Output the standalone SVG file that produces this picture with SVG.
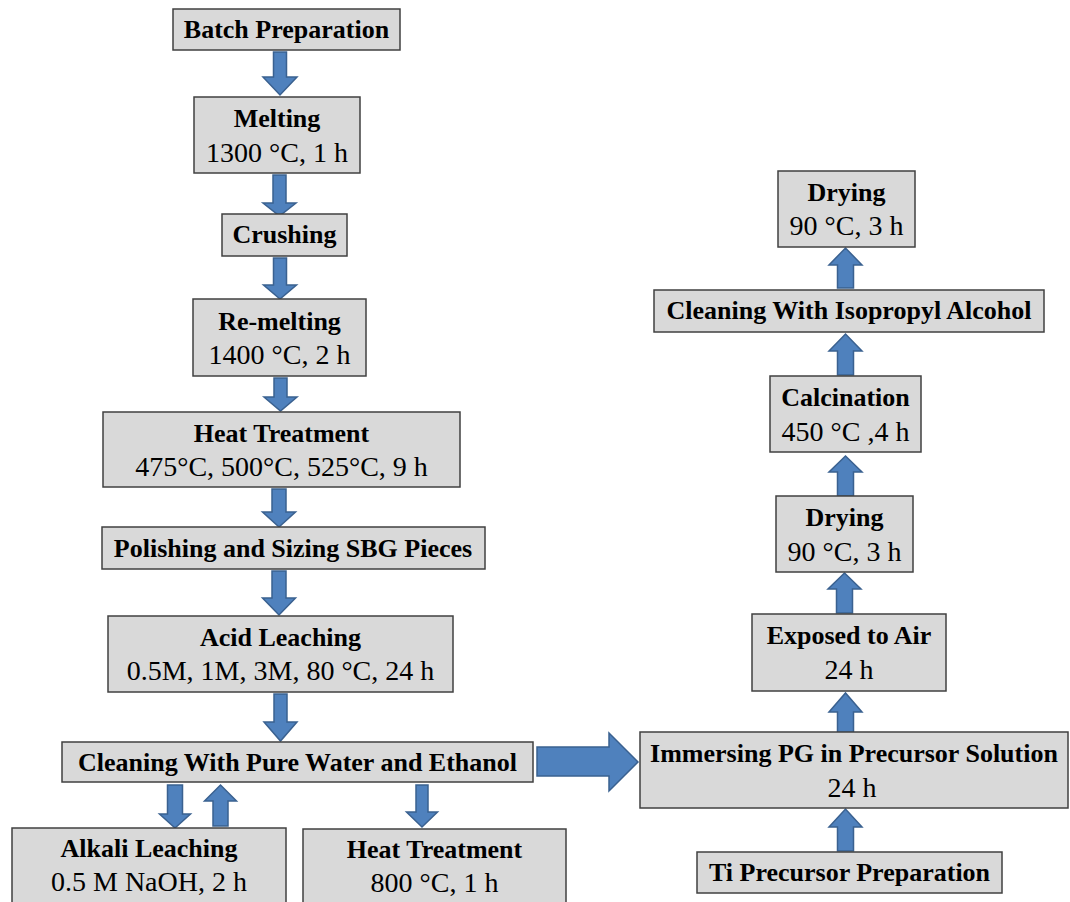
<svg xmlns="http://www.w3.org/2000/svg" width="1070" height="902" viewBox="0 0 1070 902">
<style>
.box{fill:#d9d9d9;stroke:#404040;stroke-width:1.5}
.arr{fill:#4f81bd;stroke:#3a6190;stroke-width:1.5;stroke-linejoin:miter}
.b{font-family:"Liberation Serif","Times New Roman",serif;font-weight:bold;font-size:26px;fill:#000;text-anchor:middle}
.r{font-family:"Liberation Serif","Times New Roman",serif;font-size:28px;fill:#000;text-anchor:middle}
</style>
<rect width="1070" height="902" fill="#ffffff"/>
<g id="connectors">
<polygon class="arr" points="273.5,52 286.5,52 286.5,77 297,77 280,95 263,77 273.5,77"/>
<polygon class="arr" points="273,175 286,175 286,203 296,203 279.5,216 263,203 273,203"/>
<polygon class="arr" points="273.5,258 286.5,258 286.5,285 296.5,285 280,299 263.5,285 273.5,285"/>
<polygon class="arr" points="274,378 287,378 287,397 297,397 280.5,411 264,397 274,397"/>
<polygon class="arr" points="272,489 286,489 286,512 295.5,512 279,527 262.5,512 272,512"/>
<polygon class="arr" points="272,571 286,571 286,598 295.5,598 279,615 262.5,598 272,598"/>
<polygon class="arr" points="274,694 287,694 287,722 297,722 280.5,741 264,722 274,722"/>
<polygon class="arr" points="167.5,785 182.5,785 182.5,814 190.5,814 175,828 159.5,814 167.5,814"/>
<polygon class="arr" points="213,826 228,826 228,801 236.5,801 220.5,785 204.5,801 213,801"/>
<polygon class="arr" points="416,785 428,785 428,812 437.5,812 422,827 406.5,812 416,812"/>
<polygon class="arr" points="537,747 609,747 609,733 638,762 609,791 609,776 537,776"/>
<polygon class="arr" points="837.5,851 853.5,851 853.5,827 862,827 845.5,809 829,827 837.5,827"/>
<polygon class="arr" points="837.5,733 853.5,733 853.5,712 862,712 845.5,693 829,712 837.5,712"/>
<polygon class="arr" points="836.5,613 852.5,613 852.5,589 861,589 844.5,573 828,589 836.5,589"/>
<polygon class="arr" points="837.5,496 853.5,496 853.5,472 862,472 845.5,456 829,472 837.5,472"/>
<polygon class="arr" points="837.5,375 853.5,375 853.5,351 862,351 845.5,334 829,351 837.5,351"/>
<polygon class="arr" points="837.5,288 853.5,288 853.5,265 862,265 845.5,248 829,265 837.5,265"/>
</g>
<g id="batch"><rect class="box" x="173" y="9" width="227" height="41"/><text class="b" x="286.5" y="38">Batch Preparation</text></g>
<g id="melting"><rect class="box" x="194" y="97" width="166" height="76"/><text class="b" x="277" y="127">Melting</text><text class="r" x="277" y="162">1300 °C, 1 h</text></g>
<g id="crushing"><rect class="box" x="222" y="214" width="125" height="42"/><text class="b" x="284.5" y="243">Crushing</text></g>
<g id="remelting"><rect class="box" x="193" y="299" width="173" height="77"/><text class="b" x="279.5" y="330">Re-melting</text><text class="r" x="279.5" y="364">1400 °C, 2 h</text></g>
<g id="heat1"><rect class="box" x="103" y="412" width="357" height="75"/><text class="b" x="281.5" y="442">Heat Treatment</text><text class="r" x="281.5" y="476">475°C, 500°C, 525°C, 9 h</text></g>
<g id="polishing"><rect class="box" x="102" y="527" width="383" height="42"/><text class="b" x="293" y="557">Polishing and Sizing SBG Pieces</text></g>
<g id="acid"><rect class="box" x="108" y="616" width="345" height="76"/><text class="b" x="280.5" y="646">Acid Leaching</text><text class="r" x="280.5" y="680">0.5M, 1M, 3M, 80 °C, 24 h</text></g>
<g id="cleaning"><rect class="box" x="62" y="742" width="471" height="40"/><text class="b" x="297.5" y="771">Cleaning With Pure Water and Ethanol</text></g>
<g id="alkali"><rect class="box" x="12" y="828" width="274" height="90"/><text class="b" x="149" y="857">Alkali Leaching</text><text class="r" x="149" y="891">0.5 M NaOH, 2 h</text></g>
<g id="heat2"><rect class="box" x="303" y="829" width="263" height="90"/><text class="b" x="434.5" y="858">Heat Treatment</text><text class="r" x="434.5" y="892">800 °C, 1 h</text></g>
<g id="drying1"><rect class="box" x="778" y="171" width="137" height="76"/><text class="b" x="846.5" y="201">Drying</text><text class="r" x="846.5" y="235">90 °C, 3 h</text></g>
<g id="isopropyl"><rect class="box" x="654" y="290" width="390" height="42"/><text class="b" x="849" y="319">Cleaning With Isopropyl Alcohol</text></g>
<g id="calcination"><rect class="box" x="770" y="376" width="151" height="76"/><text class="b" x="845.5" y="406">Calcination</text><text class="r" x="845.5" y="441">450 °C ,4 h</text></g>
<g id="drying2"><rect class="box" x="776" y="496" width="137" height="76"/><text class="b" x="844.5" y="526">Drying</text><text class="r" x="844.5" y="561">90 °C, 3 h</text></g>
<g id="exposed"><rect class="box" x="752" y="614" width="194" height="77"/><text class="b" x="849" y="644">Exposed to Air</text><text class="r" x="849" y="679">24 h</text></g>
<g id="immersing"><rect class="box" x="640" y="732" width="428" height="76"/><text class="b" x="854" y="762">Immersing PG in Precursor Solution</text><text class="r" x="852" y="797">24 h</text></g>
<g id="ti"><rect class="box" x="697" y="852" width="305" height="41"/><text class="b" x="849.5" y="881">Ti Precursor Preparation</text></g>
</svg>
